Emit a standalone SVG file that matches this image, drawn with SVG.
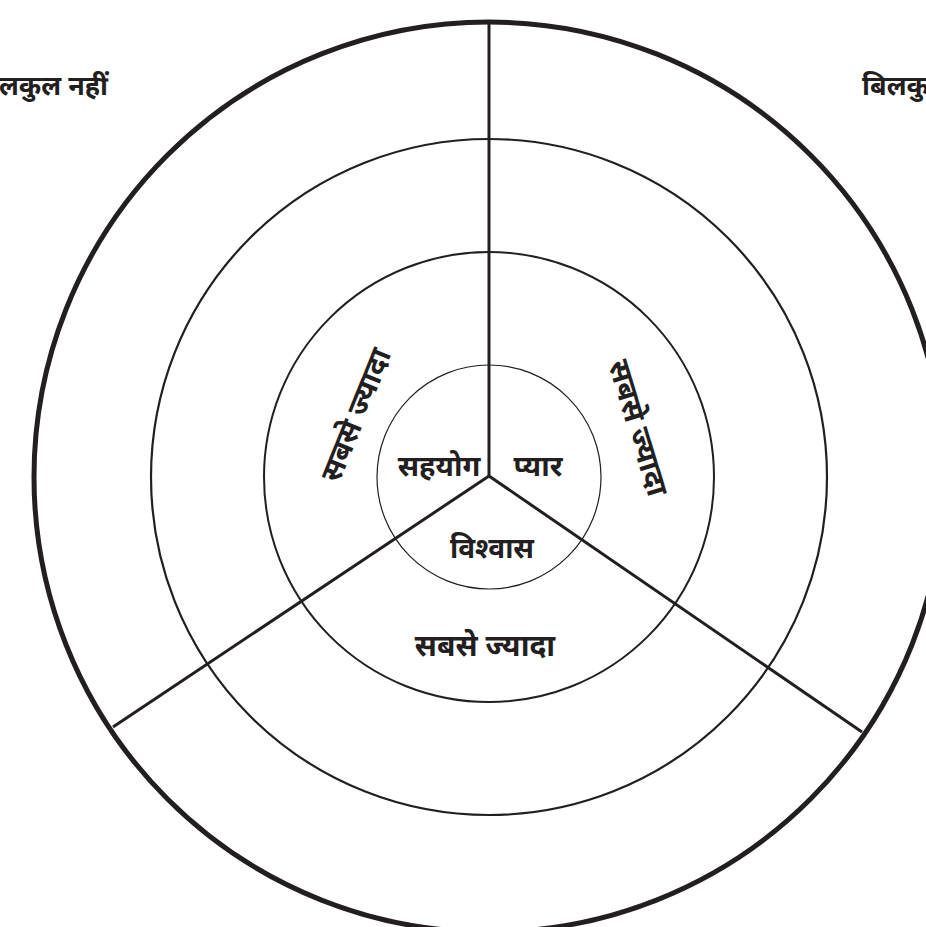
<svg xmlns="http://www.w3.org/2000/svg" width="926" height="927" viewBox="0 0 926 927">
<style>
.ring{fill:none;stroke:#231f20}
.lbl{font-family:"Noto Sans","Noto Sans Devanagari",sans-serif;font-weight:bold;fill:#231f20;text-anchor:middle}
.line{stroke:#231f20;stroke-width:3;fill:none}
</style>
<rect width="926" height="927" fill="#fff"/>
<g id="rings">
<circle id="ring-outer" class="ring" cx="489" cy="477" r="455" stroke-width="5"/>
<circle id="ring-2" class="ring" cx="489" cy="477" r="338" stroke-width="2.2"/>
<circle id="ring-3" class="ring" cx="489" cy="477" r="225" stroke-width="2"/>
<circle id="ring-inner" class="ring" cx="489" cy="477" r="112" stroke-width="1.2"/>
</g>
<g id="connectors">
<line class="line" x1="489" y1="476" x2="489" y2="21"/>
<line class="line" x1="489" y1="476" x2="113" y2="727"/>
<line class="line" x1="489" y1="476" x2="862" y2="732"/>
</g>
<g id="label-left"><text class="lbl" x="108" y="95" font-size="27" style="text-anchor:end">बिलकुल नहीं</text></g>
<g id="label-right"><text class="lbl" x="862" y="95" font-size="27" style="text-anchor:start">बिलकुल नहीं</text></g>
<g id="sahyog"><text class="lbl" x="439" y="476" font-size="29">सहयोग</text></g>
<g id="pyar"><text class="lbl" x="538" y="476" font-size="29">प्यार</text></g>
<g id="vishwas"><text class="lbl" x="492" y="558" font-size="28">विश्वास</text></g>
<g id="most-bottom"><text class="lbl" x="485" y="656" font-size="30">सबसे ज्यादा</text></g>
<g id="most-left"><text class="lbl" transform="translate(356,415) rotate(-68)" x="0" y="10" font-size="30">सबसे ज्यादा</text></g>
<g id="most-right"><text class="lbl" transform="translate(638,428) rotate(73)" x="0" y="10" font-size="30">सबसे ज्यादा</text></g>
</svg>
